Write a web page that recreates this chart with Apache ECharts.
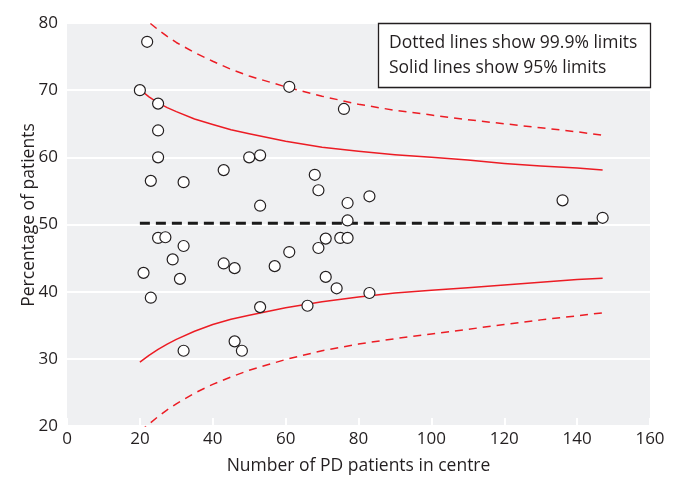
<!DOCTYPE html>
<html>
<head>
<meta charset="utf-8">
<script src="https://cdn.jsdelivr.net/npm/echarts@6/dist/echarts.min.js"></script>
<style>
  html, body { margin: 0; padding: 0; background: #ffffff; }
  #chart { width: 679px; height: 480px; }
</style>
</head>
<body>
<div id="chart"></div>
<script>
// Centres: number of PD patients and percentage of patients
const centreSize = [22, 20, 25, 25, 25, 23, 32, 43, 50, 53, 53, 61,
                    25, 27, 32, 29, 21, 31, 23, 43, 46, 57, 61, 53, 32, 46, 48,
                    76, 68, 69, 77, 83, 77, 71, 75, 77, 69, 71, 74, 83, 66,
                    136, 147];
const centrePct  = [77.2, 70.0, 68.0, 64.0, 60.0, 56.5, 56.3, 58.1, 60.0, 60.3, 52.8, 70.5,
                    48.0, 48.1, 46.8, 44.8, 42.8, 41.9, 39.1, 44.2, 43.5, 43.8, 45.9, 37.7, 31.2, 32.6, 31.2,
                    67.2, 57.4, 55.1, 53.2, 54.2, 50.6, 47.9, 48.0, 48.0, 46.5, 42.2, 40.5, 39.8, 37.9,
                    53.6, 51.0];

// Overall mean percentage
const meanPct = 50.2;
const meanRange = [20, 147];

// Control limits tabulated at these centre sizes
const limitSize  = [20, 22.5, 25, 27.5, 30, 35, 40, 45, 50, 60, 70, 80, 90, 100, 110, 120, 130, 140, 147];
const upper95    = [70.1, 69.0, 68.1, 67.4, 66.8, 65.7, 64.9, 64.1, 63.5, 62.4, 61.5, 60.9, 60.4, 60.0, 59.6, 59.1, 58.7, 58.4, 58.1];
const lower95    = [29.5, 30.5, 31.4, 32.2, 32.9, 34.1, 35.1, 35.9, 36.5, 37.6, 38.5, 39.2, 39.8, 40.2, 40.6, 41.0, 41.4, 41.8, 42.0];
const upper999   = [81.3, 80.1, 79.0, 78.0, 77.1, 75.6, 74.3, 73.1, 72.1, 70.5, 69.1, 67.9, 67.0, 66.3, 65.6, 65.0, 64.4, 63.8, 63.3];
const lower999   = [19.2, 20.3, 21.4, 22.4, 23.3, 24.9, 26.2, 27.3, 28.3, 29.9, 31.2, 32.2, 33.0, 33.7, 34.4, 35.1, 35.8, 36.4, 36.85];

const xTicks = [0, 20, 40, 60, 80, 100, 120, 140, 160];
const yTicks = [20, 30, 40, 50, 60, 70, 80];

const noteLines = ['Dotted lines show 99.9% limits', 'Solid lines show 95% limits'];

const FONT = '"Open Sans", "Noto Sans", sans-serif';
const TEXT = '#231f20';
const RED = '#ec1c24';

const pairs = (xs, ys) => xs.map((x, i) => [x, ys[i]]);

function limitSeries(values, dashed) {
  return {
    type: 'line',
    data: pairs(limitSize, values),
    smooth: false,
    showSymbol: false,
    symbol: 'none',
    clip: true,
    z: 2,
    lineStyle: { color: RED, width: 1.5, type: dashed ? [8, 6] : 'solid', join: 'round' },
    silent: true
  };
}

const chart = echarts.init(document.getElementById('chart'), null, { renderer: 'canvas' });

chart.setOption({
  animation: false,
  backgroundColor: '#ffffff',
  grid: {
    left: 67, right: 29, top: 23, bottom: 52,
    show: true, backgroundColor: '#eff0f2', borderWidth: 0
  },
  xAxis: {
    type: 'value',
    min: xTicks[0], max: xTicks[xTicks.length - 1], interval: 20,
    axisLine: { show: false },
    axisTick: { show: true, inside: true, length: 8, lineStyle: { color: '#ffffff', width: 2 } },
    splitLine: { show: false },
    axisLabel: { color: TEXT, fontFamily: FONT, fontSize: 17, margin: 5 },
    name: 'Number of PD patients in centre',
    nameLocation: 'middle',
    nameGap: 31,
    nameTextStyle: { color: TEXT, fontFamily: FONT, fontSize: 17.5 }
  },
  yAxis: {
    type: 'value',
    min: yTicks[0], max: yTicks[yTicks.length - 1], interval: 10,
    axisLine: { show: false },
    axisTick: { show: false },
    splitLine: { show: true, lineStyle: { color: '#ffffff', width: 2 } },
    axisLabel: { color: TEXT, fontFamily: FONT, fontSize: 17, margin: 9 }
  },
  graphic: [
    {
      type: 'text',
      x: 29, y: 215,
      rotation: Math.PI / 2,
      style: {
        text: 'Percentage of patients',
        fill: TEXT, font: '17.5px ' + FONT,
        align: 'center', verticalAlign: 'middle'
      }
    },
    {
      type: 'rect',
      shape: { x: 378.5, y: 23.5, width: 272, height: 64 },
      style: { fill: '#ffffff', stroke: '#231f20', lineWidth: 1.3 },
      z: 100
    },
    {
      type: 'text',
      x: 389, y: 43,
      style: { text: noteLines[0], fill: TEXT, font: '17.5px ' + FONT, verticalAlign: 'middle' },
      z: 101
    },
    {
      type: 'text',
      x: 389, y: 68,
      style: { text: noteLines[1], fill: TEXT, font: '17.5px ' + FONT, verticalAlign: 'middle' },
      z: 101
    }
  ],
  series: [
    limitSeries(upper999, true),
    limitSeries(lower999, true),
    limitSeries(upper95, false),
    limitSeries(lower95, false),
    {
      type: 'line',
      data: meanRange.map(x => [x, meanPct]),
      showSymbol: false,
      symbol: 'none',
      z: 3,
      lineStyle: { color: '#1a1a1a', width: 3, type: [10, 6] },
      silent: true
    },
    {
      type: 'scatter',
      data: pairs(centreSize, centrePct),
      symbol: 'circle',
      symbolSize: 11,
      z: 5,
      itemStyle: { color: '#ffffff', borderColor: '#231f20', borderWidth: 1.2, opacity: 1 }
    }
  ]
});
</script>
</body>
</html>
